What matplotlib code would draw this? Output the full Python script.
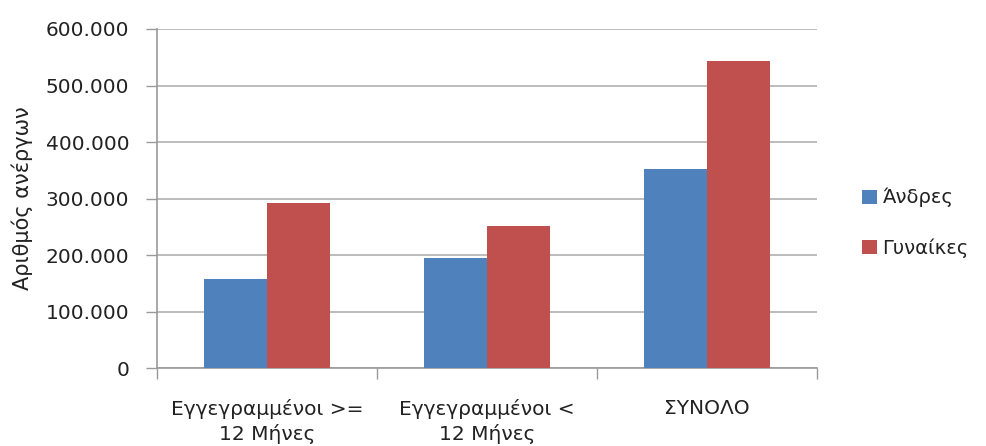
import matplotlib
matplotlib.use("Agg")
import matplotlib.pyplot as plt
import numpy as np
from matplotlib.ticker import FuncFormatter, FixedLocator

categories = ["Εγγεγραμμένοι >=\n12 Μήνες", "Εγγεγραμμένοι <\n12 Μήνες", "ΣΥΝΟΛΟ"]
series_names = ["Άνδρες", "Γυναίκες"]
men = [157500, 195000, 353000]
women = [292000, 251000, 544000]
yticks = [0, 100000, 200000, 300000, 400000, 500000, 600000]

colors = ["#4F81BD", "#C0504D"]
plt.rcParams['font.family'] = ['DejaVu Sans']

fig = plt.figure(figsize=(9.86, 4.46), dpi=100)
ax = fig.add_axes([157/986, 1 - 368/446, (817-157)/986, (368-29)/446])

x = np.arange(len(categories))
bw = 1/3.5
ax.bar(x - bw/2, men, width=bw, color=colors[0], label=series_names[0], zorder=3, linewidth=0)
ax.bar(x + bw/2, women, width=bw, color=colors[1], label=series_names[1], zorder=3, linewidth=0)

ax.set_xlim(-0.5, len(categories) - 0.5)
ax.set_ylim(0, 600000)
ax.set_yticks(yticks)
ax.yaxis.set_major_formatter(FuncFormatter(lambda v, p: f"{int(v):,}".replace(",", ".")))
ax.yaxis.grid(True, color="#b0b0b0", linewidth=1.2, zorder=0)
ax.set_axisbelow(True)

ax.xaxis.set_major_locator(FixedLocator(np.arange(len(categories) + 1) - 0.5))
ax.xaxis.set_minor_locator(FixedLocator(x))
ax.set_xticklabels([])
ax.set_xticklabels(categories, minor=True, linespacing=1.35)
ax.tick_params(axis="x", which="minor", length=0, labelsize=14.5, colors="#222222", pad=22)
ax.tick_params(axis="x", which="major", length=8, color="#999999", width=1)
ax.tick_params(axis="y", length=8, color="#999999", width=1, labelsize=14.5, labelcolor="#222222", pad=12)

for s in ["top", "right"]:
    ax.spines[s].set_visible(False)
for s in ["left", "bottom"]:
    ax.spines[s].set_color("#999999")
    ax.spines[s].set_linewidth(1.2)

ax.set_ylabel("Αριθμός ανέργων", fontsize=15, color="#222222", labelpad=9)

fig.legend(loc="center left", bbox_to_anchor=(862/986, 1 - 223/446), frameon=False,
           fontsize=14, handlelength=0.75, handleheight=0.75, handletextpad=0.3,
           labelspacing=1.6, labelcolor="#222222", borderpad=0, borderaxespad=0)

fig.savefig("out.png", dpi=100)
